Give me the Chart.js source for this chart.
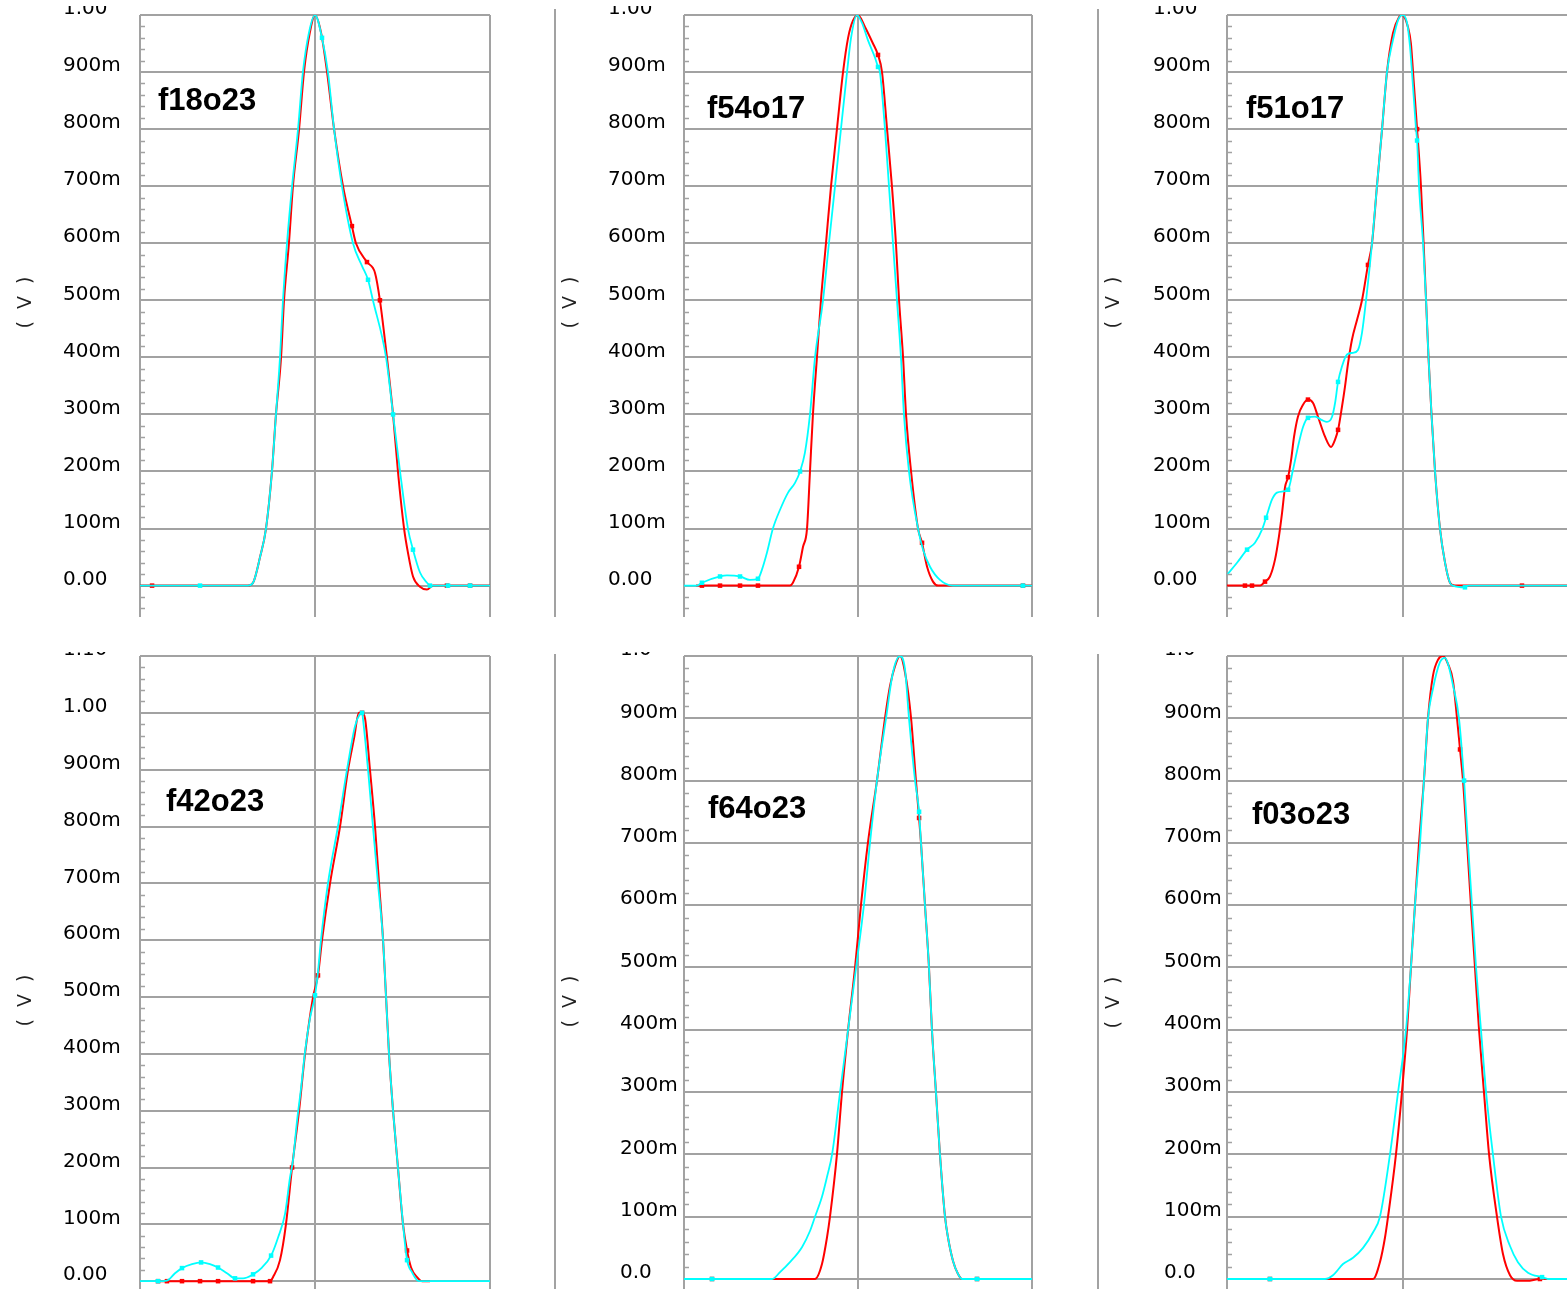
<!DOCTYPE html>
<html>
<head>
<meta charset="utf-8">
<script src="https://cdn.jsdelivr.net/npm/chart.js@4.4.0/dist/chart.umd.min.js"></script>
<style>
html, body { margin: 0; padding: 0; background: #fff; overflow: hidden; width: 1567px; height: 1289px; }
canvas { position: absolute; }
</style>
</head>
<body>
<script>
const panelNames = ['f18o23', 'f54o17', 'f51o17', 'f42o23', 'f64o23', 'f03o23']

const voltTicks = [0, 0.1, 0.2, 0.3, 0.4, 0.5, 0.6, 0.7, 0.8, 0.9, 1.0]
const voltLabels = ['0.00', '100m', '200m', '300m', '400m', '500m', '600m', '700m', '800m', '900m', '1.00']
const voltTicksTall = [0, 0.1, 0.2, 0.3, 0.4, 0.5, 0.6, 0.7, 0.8, 0.9, 1.0, 1.1]
const voltLabelsTall = ['0.00', '100m', '200m', '300m', '400m', '500m', '600m', '700m', '800m', '900m', '1.00', '1.10']
const voltLabelsShort = ['0.0', '100m', '200m', '300m', '400m', '500m', '600m', '700m', '800m', '900m', '1.0']

// x is in grid divisions (0 = left frame, 1 = middle line, 2 = right frame), y in volts
const f18o23Red = [[0,0],[0.069,0],[0.617,0],[0.646,0.005],[0.686,0.05],[0.72,0.1],[0.754,0.2],[0.777,0.3],[0.806,0.4],[0.823,0.5],[0.851,0.6],[0.874,0.7],[0.909,0.8],[0.937,0.9],[0.971,0.97],[1.0,1.0],[1.034,0.97],[1.069,0.9],[1.109,0.8],[1.16,0.7],[1.211,0.63],[1.234,0.6],[1.297,0.567],[1.343,0.548],[1.371,0.5],[1.411,0.4],[1.446,0.3],[1.474,0.2],[1.509,0.1],[1.531,0.058],[1.56,0.016],[1.6,-0.002],[1.64,-0.007],[1.674,0],[1.754,0],[1.886,0],[2,0]]
const f18o23Cyan = [[0,0],[0.343,0],[0.617,0],[0.646,0.005],[0.686,0.05],[0.72,0.1],[0.754,0.2],[0.777,0.3],[0.8,0.4],[0.817,0.5],[0.84,0.6],[0.869,0.7],[0.903,0.8],[0.931,0.9],[0.966,0.97],[1.0,1.0],[1.04,0.96],[1.074,0.9],[1.109,0.8],[1.154,0.7],[1.217,0.6],[1.269,0.56],[1.303,0.536],[1.331,0.5],[1.406,0.4],[1.446,0.3],[1.486,0.2],[1.531,0.1],[1.56,0.063],[1.6,0.023],[1.64,0.005],[1.657,0],[1.76,0],[1.886,0],[2,0]]
const f18o23RedMarks = [0.069, 1.211, 1.297, 1.371, 1.754, 1.886]
const f18o23CyanMarks = [0.343, 1.04, 1.303, 1.446, 1.56, 1.657, 1.76, 1.886]

const f54o17Red = [[0.069,0],[0.103,0],[0.207,0],[0.322,0],[0.425,0],[0.609,0],[0.626,0.005],[0.661,0.033],[0.684,0.068],[0.707,0.1],[0.724,0.2],[0.741,0.3],[0.764,0.4],[0.787,0.5],[0.816,0.6],[0.845,0.7],[0.879,0.8],[0.914,0.9],[0.943,0.96],[0.971,0.99],[1.0,1.0],[1.04,0.979],[1.086,0.95],[1.115,0.93],[1.138,0.9],[1.167,0.8],[1.195,0.7],[1.218,0.6],[1.236,0.5],[1.259,0.4],[1.276,0.3],[1.305,0.2],[1.345,0.1],[1.368,0.075],[1.397,0.033],[1.431,0.007],[1.46,0],[1.948,0],[2,0]]
const f54o17Cyan = [[0,0],[0.075,0],[0.103,0.005],[0.207,0.016],[0.247,0.018],[0.322,0.016],[0.379,0.01],[0.425,0.012],[0.448,0.028],[0.477,0.058],[0.511,0.1],[0.552,0.133],[0.598,0.163],[0.638,0.18],[0.667,0.2],[0.695,0.233],[0.724,0.3],[0.753,0.4],[0.799,0.5],[0.833,0.6],[0.868,0.7],[0.902,0.8],[0.937,0.9],[0.96,0.96],[0.994,1.0],[1.023,0.986],[1.057,0.956],[1.098,0.925],[1.115,0.909],[1.126,0.9],[1.155,0.8],[1.178,0.7],[1.201,0.6],[1.224,0.5],[1.247,0.4],[1.264,0.3],[1.293,0.2],[1.345,0.1],[1.374,0.063],[1.414,0.033],[1.471,0.01],[1.546,0],[1.948,0],[2,0]]
const f54o17RedMarks = [0.103, 0.207, 0.322, 0.425, 0.661, 1.115, 1.368, 1.948]
const f54o17CyanMarks = [0.103, 0.207, 0.322, 0.425, 0.667, 1.115, 1.948]

const f51o17Red = [[0,0],[0.102,0],[0.142,0],[0.188,0],[0.216,0.007],[0.244,0.016],[0.273,0.046],[0.295,0.086],[0.313,0.128],[0.33,0.173],[0.347,0.19],[0.364,0.22],[0.381,0.261],[0.403,0.296],[0.432,0.317],[0.46,0.326],[0.489,0.32],[0.517,0.296],[0.557,0.261],[0.591,0.243],[0.614,0.256],[0.631,0.273],[0.653,0.313],[0.67,0.348],[0.688,0.39],[0.71,0.431],[0.739,0.466],[0.767,0.5],[0.801,0.562],[0.824,0.6],[0.852,0.7],[0.881,0.8],[0.909,0.9],[0.943,0.968],[0.977,0.996],[0.994,1.0],[1.028,0.979],[1.045,0.95],[1.057,0.9],[1.08,0.8],[1.102,0.7],[1.117,0.6],[1.131,0.5],[1.145,0.4],[1.162,0.3],[1.182,0.2],[1.21,0.1],[1.239,0.04],[1.267,0.005],[1.295,0],[1.676,0],[2,0]]
const f51o17Cyan = [[0,0.019],[0.057,0.04],[0.114,0.063],[0.159,0.075],[0.199,0.098],[0.222,0.119],[0.256,0.151],[0.284,0.163],[0.318,0.165],[0.347,0.168],[0.375,0.203],[0.403,0.243],[0.432,0.278],[0.46,0.294],[0.5,0.296],[0.54,0.29],[0.568,0.287],[0.597,0.296],[0.614,0.32],[0.631,0.357],[0.653,0.384],[0.682,0.405],[0.716,0.408],[0.744,0.413],[0.767,0.443],[0.79,0.5],[0.824,0.6],[0.852,0.7],[0.881,0.8],[0.909,0.9],[0.943,0.956],[0.972,0.991],[0.994,1.0],[1.023,0.986],[1.04,0.944],[1.051,0.9],[1.074,0.8],[1.08,0.78],[1.091,0.7],[1.114,0.6],[1.131,0.5],[1.145,0.4],[1.162,0.3],[1.182,0.2],[1.21,0.1],[1.239,0.04],[1.267,0.005],[1.284,0],[1.352,-0.003],[1.37,0],[2,0]]
const f51o17RedMarks = [0.102, 0.142, 0.216, 0.347, 0.46, 0.631, 0.801, 1.08, 1.676]
const f51o17CyanMarks = [0.114, 0.222, 0.347, 0.46, 0.631, 1.08, 1.352]

const f42o23Red = [[0.103,0],[0.154,0],[0.24,0],[0.343,0],[0.446,0],[0.646,0],[0.743,0],[0.76,0.007],[0.8,0.037],[0.834,0.1],[0.869,0.2],[0.909,0.3],[0.943,0.4],[0.989,0.5],[1.017,0.538],[1.04,0.6],[1.086,0.7],[1.143,0.8],[1.189,0.9],[1.223,0.955],[1.251,1.0],[1.269,1.0],[1.286,0.99],[1.314,0.9],[1.343,0.8],[1.366,0.7],[1.389,0.6],[1.406,0.5],[1.423,0.4],[1.446,0.3],[1.474,0.2],[1.503,0.1],[1.526,0.054],[1.549,0.024],[1.583,0.007],[1.611,0],[1.657,0]]
const f42o23Cyan = [[0,0],[0.103,0],[0.154,0.001],[0.2,0.014],[0.24,0.023],[0.297,0.03],[0.349,0.033],[0.4,0.03],[0.446,0.024],[0.497,0.014],[0.543,0.005],[0.589,0.005],[0.646,0.012],[0.697,0.024],[0.749,0.045],[0.789,0.077],[0.829,0.119],[0.857,0.182],[0.874,0.212],[0.897,0.281],[0.92,0.339],[0.943,0.404],[0.971,0.462],[1.0,0.503],[1.017,0.544],[1.034,0.6],[1.074,0.7],[1.131,0.8],[1.183,0.9],[1.229,0.977],[1.257,0.998],[1.269,1.0],[1.274,0.99],[1.303,0.9],[1.331,0.8],[1.36,0.7],[1.389,0.6],[1.406,0.5],[1.423,0.4],[1.446,0.3],[1.474,0.2],[1.503,0.1],[1.526,0.037],[1.554,0.016],[1.583,0.002],[1.6,0],[2,0]]
const f42o23RedMarks = [0.103, 0.154, 0.24, 0.343, 0.446, 0.646, 0.743, 0.869, 1.017, 1.269, 1.526]
const f42o23CyanMarks = [0.103, 0.24, 0.349, 0.446, 0.543, 0.646, 0.749, 1.0, 1.269, 1.526]

const f64o23Red = [[0,0],[0.161,0],[0.753,0],[0.793,0.024],[0.822,0.067],[0.839,0.1],[0.879,0.2],[0.908,0.3],[0.943,0.4],[0.983,0.5],[1.017,0.6],[1.057,0.7],[1.109,0.8],[1.155,0.9],[1.184,0.952],[1.213,0.984],[1.241,1.0],[1.27,0.974],[1.305,0.9],[1.333,0.8],[1.351,0.74],[1.362,0.7],[1.385,0.6],[1.408,0.5],[1.425,0.4],[1.448,0.3],[1.471,0.2],[1.5,0.1],[1.517,0.067],[1.546,0.029],[1.575,0.008],[1.598,0],[1.684,0],[1.701,0]]
const f64o23Cyan = [[0,0],[0.161,0],[0.506,0],[0.552,0.011],[0.609,0.027],[0.678,0.051],[0.724,0.077],[0.753,0.1],[0.793,0.132],[0.822,0.164],[0.851,0.2],[0.897,0.3],[0.943,0.4],[0.989,0.5],[1.034,0.6],[1.069,0.7],[1.109,0.8],[1.161,0.9],[1.201,0.974],[1.241,1.0],[1.27,0.979],[1.293,0.9],[1.328,0.8],[1.351,0.75],[1.362,0.7],[1.385,0.6],[1.408,0.5],[1.425,0.4],[1.448,0.3],[1.471,0.2],[1.5,0.1],[1.517,0.067],[1.546,0.029],[1.575,0.008],[1.598,0],[1.684,0],[2,0]]
const f64o23RedMarks = [0.161, 1.351, 1.684]
const f64o23CyanMarks = [0.161, 1.351, 1.684]

const f03o23Red = [[0,0],[0.244,0],[0.557,0],[0.83,0],[0.869,0.027],[0.898,0.067],[0.915,0.1],[0.96,0.2],[0.994,0.3],[1.023,0.4],[1.045,0.5],[1.068,0.6],[1.091,0.7],[1.119,0.8],[1.142,0.9],[1.17,0.968],[1.199,0.994],[1.227,1.0],[1.256,0.987],[1.284,0.96],[1.307,0.9],[1.324,0.85],[1.341,0.8],[1.364,0.7],[1.386,0.6],[1.409,0.5],[1.432,0.4],[1.46,0.3],[1.489,0.2],[1.534,0.1],[1.568,0.04],[1.608,0.006],[1.648,-0.003],[1.705,-0.003],[1.778,0],[1.818,0]]
const f03o23Cyan = [[0,0],[0.244,0],[0.557,0],[0.602,0.006],[0.659,0.024],[0.716,0.034],[0.773,0.05],[0.83,0.075],[0.869,0.1],[0.926,0.2],[0.972,0.3],[1.017,0.4],[1.045,0.5],[1.068,0.6],[1.097,0.7],[1.119,0.8],[1.142,0.9],[1.17,0.947],[1.21,0.99],[1.239,0.997],[1.256,0.987],[1.284,0.953],[1.318,0.9],[1.347,0.8],[1.369,0.7],[1.392,0.6],[1.415,0.5],[1.443,0.4],[1.472,0.3],[1.511,0.2],[1.557,0.1],[1.608,0.053],[1.653,0.027],[1.71,0.01],[1.79,0.003],[1.835,0],[2,0]]
const f03o23RedMarks = [0.244, 1.324, 1.778]
const f03o23CyanMarks = [0.244, 1.347, 1.79]

const gridColor = '#a2a2a2'

const panels = [
    { name: panelNames[0], red: f18o23Red, cyan: f18o23Cyan, redMarks: f18o23RedMarks, cyanMarks: f18o23CyanMarks,
      ticks: voltTicks, labels: voltLabels, yMin: -0.055, yMax: 1.0,
      left: 0, top: 6, w: 500, h: 611, padTop: 9, padLeft: 63, axisW: 77, nameX: 158, nameY: 104, voltY: 295, sep: null },
    { name: panelNames[1], red: f54o17Red, cyan: f54o17Cyan, redMarks: f54o17RedMarks, cyanMarks: f54o17CyanMarks,
      ticks: voltTicks, labels: voltLabels, yMin: -0.055, yMax: 1.0,
      left: 545, top: 6, w: 497, h: 611, padTop: 9, padLeft: 63, axisW: 76, nameX: 162, nameY: 112, voltY: 295, sep: 3 },
    { name: panelNames[2], red: f51o17Red, cyan: f51o17Cyan, redMarks: f51o17RedMarks, cyanMarks: f51o17CyanMarks,
      ticks: voltTicks, labels: voltLabels, yMin: -0.055, yMax: 1.0,
      left: 1088, top: 6, w: 501, h: 611, padTop: 9, padLeft: 65, axisW: 74, nameX: 158, nameY: 112, voltY: 295, sep: 3 },
    { name: panelNames[3], red: f42o23Red, cyan: f42o23Cyan, redMarks: f42o23RedMarks, cyanMarks: f42o23CyanMarks,
      ticks: voltTicksTall, labels: voltLabelsTall, yMin: -0.056, yMax: 1.1,
      left: 0, top: 652, w: 500, h: 665, padTop: 4, padLeft: 63, axisW: 77, nameX: 166, nameY: 159, voltY: 347, sep: null },
    { name: panelNames[4], red: f64o23Red, cyan: f64o23Cyan, redMarks: f64o23RedMarks, cyanMarks: f64o23CyanMarks,
      ticks: voltTicks, labels: voltLabelsShort, yMin: -0.061, yMax: 1.0,
      left: 545, top: 652, w: 497, h: 665, padTop: 4, padLeft: 75, axisW: 64, nameX: 163, nameY: 166, voltY: 348, sep: 2 },
    { name: panelNames[5], red: f03o23Red, cyan: f03o23Cyan, redMarks: f03o23RedMarks, cyanMarks: f03o23CyanMarks,
      ticks: voltTicks, labels: voltLabelsShort, yMin: -0.061, yMax: 1.0,
      left: 1088, top: 652, w: 501, h: 665, padTop: 4, padLeft: 76, axisW: 63, nameX: 164, nameY: 172, voltY: 349, sep: 2 }
]

function series(points, marks, color, width) {
    return {
        data: points,
        borderColor: color,
        backgroundColor: color,
        borderWidth: width,
        cubicInterpolationMode: 'monotone',
        pointStyle: 'rect',
        pointBorderWidth: 0,
        pointRadius: ctx => marks.includes(ctx.raw[0]) ? 3.2 : 0
    }
}

// frame separator, minor ticks, "( V )" and the panel name
function decorPlugin(p) {
    return {
        id: 'decor',
        afterDatasetsDraw(chart) {
            const ctx = chart.ctx
            const area = chart.chartArea
            const y = chart.scales.y
            ctx.save()
            ctx.strokeStyle = gridColor
            ctx.lineWidth = 1.5
            for (let k = Math.ceil(p.yMin / 0.02); k <= Math.floor(p.yMax / 0.02); k++) {
                if (k % 5 === 0) continue
                const py = Math.round(y.getPixelForValue(k * 0.02)) + 0.5
                ctx.beginPath()
                ctx.moveTo(area.left, py)
                ctx.lineTo(area.left + 5, py)
                ctx.stroke()
            }
            if (p.sep !== null) {
                ctx.lineWidth = 2
                ctx.beginPath()
                ctx.moveTo(10, p.sep)
                ctx.lineTo(10, chart.height)
                ctx.stroke()
            }
            ctx.fillStyle = '#222'
            ctx.font = '19px "DejaVu Sans"'
            ctx.letterSpacing = '3px'
            ctx.textAlign = 'center'
            ctx.textBaseline = 'middle'
            ctx.translate(26, p.voltY)
            ctx.rotate(-Math.PI / 2)
            ctx.fillText('( V )', 0, 0)
            ctx.restore()

            ctx.save()
            ctx.fillStyle = '#000'
            ctx.font = 'bold 31px "Liberation Sans", Arial, sans-serif'
            ctx.textAlign = 'left'
            ctx.textBaseline = 'alphabetic'
            ctx.fillText(p.name, p.nameX, p.nameY)
            ctx.restore()
        }
    }
}

function buildPanel(p) {
    const canvas = document.createElement('canvas')
    canvas.width = p.w
    canvas.height = p.h
    canvas.style.left = p.left + 'px'
    canvas.style.top = p.top + 'px'
    document.body.appendChild(canvas)

    new Chart(canvas.getContext('2d'), {
        type: 'line',
        data: {
            datasets: [
                series(p.cyan, p.cyanMarks, '#00ffff', 1.8),
                series(p.red, p.redMarks, '#ff0000', 2)
            ]
        },
        options: {
            responsive: false,
            animation: false,
            events: [],
            layout: { padding: { top: p.padTop, left: p.padLeft, right: 10, bottom: 0 } },
            plugins: { legend: { display: false }, tooltip: { enabled: false } },
            scales: {
                x: {
                    type: 'linear', min: 0, max: 2,
                    ticks: { display: false, stepSize: 1 },
                    grid: { color: gridColor, lineWidth: 2, drawTicks: false },
                    border: { display: false },
                    afterFit: s => { s.height = 0; s.paddingLeft = 0; s.paddingRight = 0 }
                },
                y: {
                    type: 'linear', min: p.yMin, max: p.yMax,
                    afterBuildTicks: s => { s.ticks = p.ticks.map(v => ({ value: v })) },
                    afterFit: s => { s.width = p.axisW; s.paddingTop = 0; s.paddingBottom = 0 },
                    ticks: {
                        crossAlign: 'far', padding: 0, labelOffset: -6, color: '#000',
                        font: { family: 'DejaVu Sans', size: 20 },
                        callback: (v, i) => p.labels[i]
                    },
                    grid: { color: gridColor, lineWidth: 2, drawTicks: false },
                    border: { display: false }
                }
            }
        },
        plugins: [decorPlugin(p)]
    })
}

panels.forEach(buildPanel)
</script>
</body>
</html>
